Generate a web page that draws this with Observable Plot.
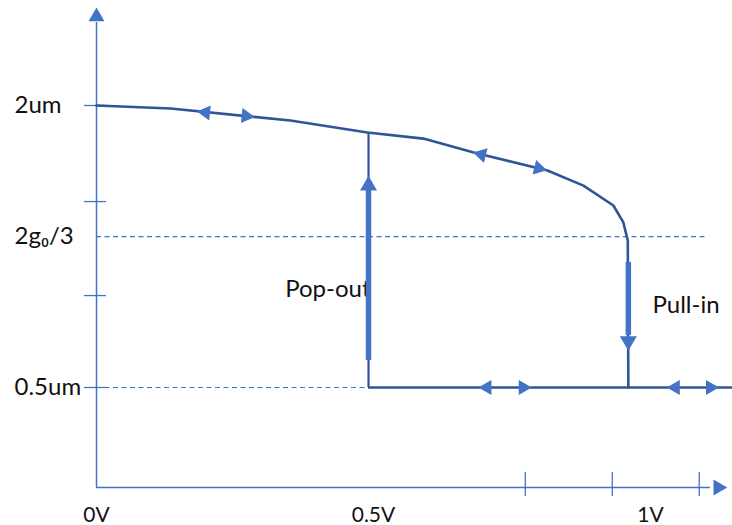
<!DOCTYPE html>
<html>
<head>
<meta charset="utf-8">
<script src="https://cdn.jsdelivr.net/npm/d3@7"></script>
<script src="https://cdn.jsdelivr.net/npm/@observablehq/plot@0.6"></script>
<style>
  html, body { margin: 0; padding: 0; background: #fff; }
  #chart svg { display: block; }
</style>
</head>
<body>
<div id="chart"></div>
<script>
// ---- data (voltage in V, gap in um) ----
const curveVolts = [0, 0.134, 0.350, 0.489, 0.590, 0.681, 0.814, 0.879, 0.933, 0.951, 0.959, 0.960];
const curveGap   = [2.0, 1.984, 1.920, 1.856, 1.824, 1.750, 1.654, 1.574, 1.468, 1.378, 1.282, 0.5];

const popOutVolt = 0.491;
const popOutTopGap = 1.85;
const pullInVolt = 0.960;
const bottomGap = 0.5;
const bottomEndVolt = 1.148;

const thresholdGap = 1.303;      // 2g0/3
const thresholdEndVolt = 1.103;

const xLabelVolts = [0, 0.5, 1];
const xLabels = ["0V", "0.5V", "1V"];
const xTickVolts = [0.774, 0.931, 1.088];

const yLabelGaps = [2, 1.303, 0.5];
const yLabels = ["2um", "2g\u2080/3", "0.5um"];
const yTickGaps = [2, 1.489, 0.989, 0.5];

// direction markers along the hysteresis path
const dirVolts = [0.197, 0.270, 0.695, 0.798, 0.705, 0.770, 1.045, 1.108];
const dirGaps  = [1.963, 1.944, 1.739, 1.666, 0.5, 0.5, 0.5, 0.5];
const dirRot   = [-84.3, 95.7, -76.3, 103.7, -90, 90, -90, 90];

// thick transition arrows
const popOutBar = [0.644, 1.548];
const popOutHead = 1.574;
const pullInBar = [1.166, 0.777];
const pullInHead = 0.747;

const popOutLabel = {text: "Pop-out", v: 0.4946, g: 1.021};
const pullInLabel = {text: "Pull-in", v: 1.0036, g: 0.936};

// axis extents
const axisMinGap = -0.032, axisMaxGap = 2.441, yArrowGap = 2.472;
const axisEndVolt = 1.108, xArrowVolt = 1.122;

// ---- build ----
const AXIS = "#4472C4";
const LINE = "#2F5597";
const FONT = "Lato, 'Open Sans', sans-serif";

const curve = curveVolts.map((v, i) => ({v, g: curveGap[i]}));
const dirs = dirVolts.map((v, i) => ({v, g: dirGaps[i], r: dirRot[i]}));

const chart = Plot.plot({
  width: 732,
  height: 525,
  margin: 0,
  x: {domain: [0, 1], range: [96, 650], axis: null},
  y: {domain: [0.5, 2], range: [387, 105], axis: null},
  style: {fontFamily: FONT, background: "#fff", overflow: "visible"},
  marks: [
    // dashed guide lines
    Plot.ruleY([thresholdGap], {x1: 0, x2: thresholdEndVolt, stroke: AXIS, strokeWidth: 1.2, strokeDasharray: "5,3.5"}),
    Plot.ruleY([bottomGap], {x1: 0, x2: bottomEndVolt, stroke: AXIS, strokeWidth: 1.2, strokeDasharray: "5,3.5"}),
    // axes
    Plot.ruleX([0], {y1: axisMinGap, y2: axisMaxGap, stroke: AXIS, strokeWidth: 1.5}),
    Plot.ruleY([axisMinGap], {x1: 0, x2: axisEndVolt, stroke: AXIS, strokeWidth: 1.5}),
    Plot.dot([0], {x: 0, y: yArrowGap, symbol: "triangle", r: 5.9, fill: AXIS, stroke: "none"}),
    Plot.dot([0], {x: xArrowVolt, y: axisMinGap, symbol: "triangle", r: 5.9, rotate: 90, fill: AXIS, stroke: "none"}),
    // tick marks
    Plot.ruleY(yTickGaps, {x1: -0.0217, x2: 0.018, stroke: AXIS, strokeWidth: 1.3}),
    Plot.ruleX(xTickVolts, {y1: 0.048, y2: -0.080, stroke: AXIS, strokeWidth: 1.3}),
    // tick labels
    Plot.text(xLabels, {x: (d, i) => xLabelVolts[i], y: -0.181, text: d => d, fontSize: 21, fill: "#111", textAnchor: "middle", lineAnchor: "middle"}),
    Plot.text(yLabels, {x: -0.148, y: (d, i) => yLabelGaps[i], text: d => d, fontSize: 24, fill: "#111", textAnchor: "start", lineAnchor: "middle"}),
    // annotations (drawn before the bars so the bar overlaps the "t")
    Plot.text([popOutLabel], {x: "v", y: "g", text: "text", textAnchor: "end", fontSize: 24, fill: "#111", lineAnchor: "middle"}),
    Plot.text([pullInLabel], {x: "v", y: "g", text: "text", textAnchor: "start", fontSize: 24, fill: "#111", lineAnchor: "middle"}),
    // hysteresis path
    Plot.line(curve, {x: "v", y: "g", stroke: LINE, strokeWidth: 2.6, strokeLinejoin: "round"}),
    Plot.ruleY([bottomGap], {x1: popOutVolt, x2: bottomEndVolt, stroke: LINE, strokeWidth: 2.6}),
    Plot.ruleX([popOutVolt], {y1: bottomGap, y2: popOutTopGap, stroke: LINE, strokeWidth: 2.2}),
    // thick transition arrows
    Plot.ruleX([popOutVolt], {y1: popOutBar[0], y2: popOutBar[1], stroke: AXIS, strokeWidth: 5.5}),
    Plot.dot([0], {x: popOutVolt, y: popOutHead, symbol: "triangle", r: 6.3, fill: AXIS, stroke: "none"}),
    Plot.ruleX([pullInVolt], {y1: pullInBar[0], y2: pullInBar[1], stroke: AXIS, strokeWidth: 5.5}),
    Plot.dot([0], {x: pullInVolt, y: pullInHead, symbol: "triangle", r: 6.3, rotate: 180, fill: AXIS, stroke: "none"}),
    // direction markers
    Plot.dot(dirs, {x: "v", y: "g", symbol: "triangle", r: 5.6, rotate: "r", fill: AXIS, stroke: "none"})
  ]
});
document.getElementById("chart").appendChild(chart);
</script>
</body>
</html>
